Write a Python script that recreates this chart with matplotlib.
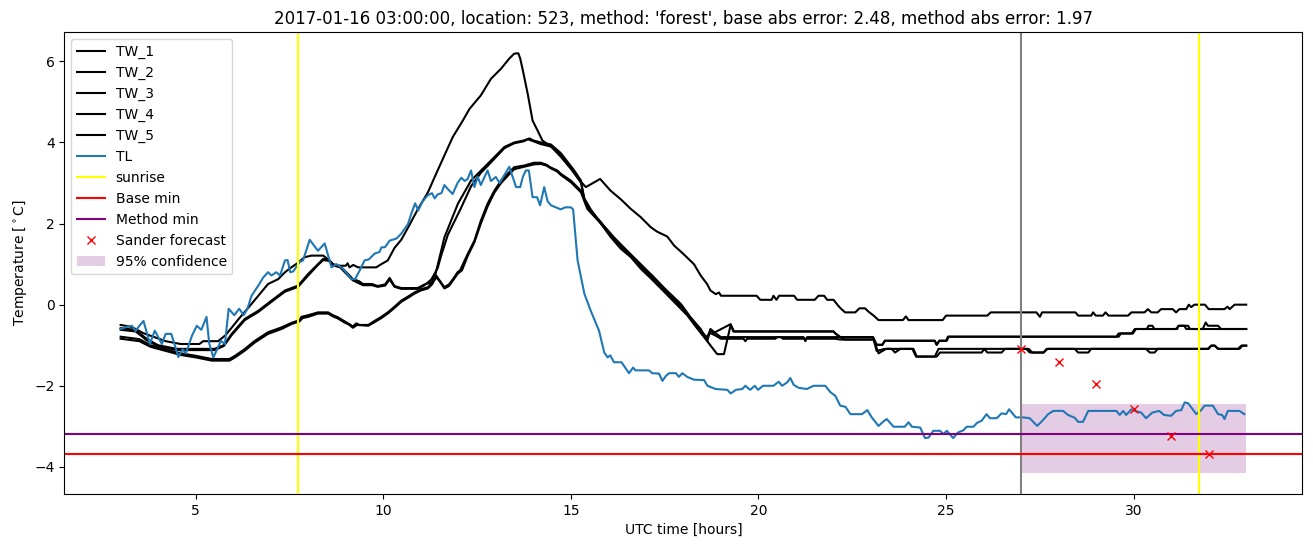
import matplotlib
matplotlib.use("Agg")
import matplotlib.pyplot as plt

# water temperatures (hour, degC)
tw1 = [(3.0, -0.5), (3.3, -0.55), (3.6, -0.7), (3.9, -0.8), (4.2, -0.9), (4.6, -0.97), (5.1, -0.97), (5.2, -0.9),
       (5.6, -0.9), (5.8, -0.75), (6.14, -0.36), (6.49, 0.02), (6.67, 0.22), (6.93, 0.51), (7.2, 0.63), (7.38, 0.8),
       (7.55, 0.92), (7.74, 1.04), (7.9, 1.17), (8.09, 1.21), (8.4, 1.21), (8.57, 1.09), (8.7, 0.96), (9.0, 0.96),
       (9.05, 1.02), (9.1, 0.92), (9.2, 0.98), (9.33, 0.92), (9.81, 0.92), (9.95, 1.0), (10.12, 1.09), (10.3, 1.4),
       (10.48, 1.6), (10.66, 1.9), (10.92, 2.35), (11.19, 2.77), (11.41, 3.23), (11.63, 3.68), (11.85, 4.13),
       (12.12, 4.54), (12.3, 4.83), (12.6, 5.16), (12.87, 5.57), (13.14, 5.82), (13.36, 6.07), (13.49, 6.19),
       (13.6, 6.2), (13.65, 6.07), (13.72, 5.78), (13.85, 5.2), (13.98, 4.54), (14.11, 4.3), (14.24, 4.05),
       (14.47, 3.9), (14.73, 3.65), (15.0, 3.35), (15.2, 3.1), (15.4, 2.9), (15.78, 3.1), (16.06, 2.81), (16.33, 2.6),
       (16.6, 2.36), (16.86, 2.16), (17.13, 1.91), (17.3, 1.8), (17.57, 1.68), (17.75, 1.46), (18.0, 1.25),
       (18.28, 1.0), (18.46, 0.72), (18.63, 0.51), (18.72, 0.35), (18.86, 0.26), (18.95, 0.3), (19.0, 0.22),
       (19.95, 0.22), (20.05, 0.12), (20.35, 0.12), (20.4, 0.22), (20.48, 0.12), (20.55, 0.22), (20.95, 0.22),
       (21.03, 0.12), (21.5, 0.12), (21.6, 0.22), (21.75, 0.22), (21.83, 0.12), (22.0, 0.12), (22.13, -0.03),
       (22.2, -0.1), (22.31, -0.19), (22.58, -0.19), (22.69, -0.09), (22.84, -0.09), (22.93, -0.17), (23.07, -0.27),
       (23.2, -0.38), (23.85, -0.38), (23.93, -0.29), (24.0, -0.38), (24.91, -0.38), (25.0, -0.27), (26.1, -0.27),
       (26.19, -0.19), (27.41, -0.19), (27.5, -0.3), (27.56, -0.19), (28.45, -0.19), (28.52, -0.27), (28.87, -0.27),
       (28.92, -0.19), (28.99, -0.27), (29.18, -0.27), (29.25, -0.19), (29.33, -0.27), (29.85, -0.27),
       (29.94, -0.19), (30.29, -0.19), (30.38, -0.11), (30.47, -0.19), (30.64, -0.19), (30.73, -0.11),
       (31.04, -0.11), (31.13, -0.19), (31.22, -0.11), (31.4, -0.11), (31.47, 0.0), (31.53, -0.06), (31.62, 0.0),
       (31.9, 0.0), (32.0, -0.11), (32.42, -0.11), (32.5, -0.05), (32.56, -0.11), (32.69, 0.0), (33.0, 0.0)]

tw2 = [(3.0, -0.58), (3.4, -0.62), (3.7, -0.85), (4.0, -1.0), (4.5, -1.09), (5.5, -1.09), (5.75, -1.0), (5.96, -0.72),
       (6.31, -0.35), (6.67, -0.15), (7.02, 0.1), (7.38, 0.35), (7.73, 0.47), (8.0, 0.76), (8.26, 1.0), (8.4, 1.13),
       (8.55, 1.1), (8.66, 1.0), (8.85, 0.95), (9.06, 0.76), (9.19, 0.63), (9.35, 0.58), (9.46, 0.51), (9.7, 0.51),
       (9.85, 0.46), (10.05, 0.5), (10.17, 0.66), (10.3, 0.46), (10.48, 0.41), (10.92, 0.41), (11.1, 0.5),
       (11.28, 0.55), (11.37, 0.67), (11.63, 1.66), (11.99, 2.49), (12.34, 3.06), (12.78, 3.47), (13.23, 3.89),
       (13.49, 4.0), (13.75, 4.05), (13.9, 4.1), (14.0, 4.05), (14.2, 4.0), (14.47, 3.95), (14.73, 3.74),
       (15.09, 3.31), (15.27, 3.06), (15.36, 2.57), (15.53, 2.32), (15.8, 2.03), (16.06, 1.7), (16.33, 1.41),
       (16.6, 1.21), (16.86, 0.92), (17.13, 0.68), (17.4, 0.43), (17.75, 0.1), (18.1, -0.23), (18.37, -0.56),
       (18.63, -0.81), (18.72, -0.62), (18.8, -0.7), (19.26, -0.48), (19.33, -0.66), (22.0, -0.66), (22.05, -0.71),
       (22.18, -0.8), (23.05, -0.8), (23.15, -0.99), (23.3, -0.99), (23.37, -0.89), (24.7, -0.89), (24.75, -0.99),
       (24.82, -0.89), (25.0, -0.89), (25.05, -0.79), (29.54, -0.79), (29.6, -0.71), (29.95, -0.71), (30.03, -0.6),
       (30.35, -0.6), (30.4, -0.52), (30.5, -0.52), (30.55, -0.6), (31.16, -0.6), (31.2, -0.52), (31.35, -0.52),
       (31.4, -0.6), (31.84, -0.6), (31.92, -0.44), (31.98, -0.52), (32.25, -0.52), (32.33, -0.6), (33.0, -0.6)]

tw3 = [(3.0, -0.62), (3.4, -0.66), (3.7, -0.88), (4.0, -1.02), (4.5, -1.12), (5.5, -1.12), (5.75, -1.02),
       (5.96, -0.75), (6.31, -0.38), (6.67, -0.18), (7.02, 0.07), (7.38, 0.32), (7.73, 0.44), (8.0, 0.72),
       (8.26, 0.98), (8.4, 1.1), (8.55, 1.08), (8.66, 0.97), (8.85, 0.92), (9.06, 0.72), (9.19, 0.6), (9.46, 0.48),
       (9.7, 0.48), (9.85, 0.44), (10.05, 0.47), (10.17, 0.62), (10.3, 0.44), (10.48, 0.39), (10.92, 0.39),
       (11.1, 0.48), (11.28, 0.62), (11.45, 0.9), (11.54, 1.2), (11.72, 1.72), (12.07, 2.38), (12.34, 2.92),
       (12.6, 3.25), (12.78, 3.42), (13.23, 3.86), (13.49, 3.98), (13.75, 4.03), (13.85, 4.08), (14.0, 4.03),
       (14.2, 3.96), (14.47, 3.9), (14.73, 3.7), (15.09, 3.27), (15.27, 3.0), (15.36, 2.62), (15.53, 2.35),
       (15.8, 2.0), (16.06, 1.67), (16.33, 1.38), (16.6, 1.17), (16.86, 0.89), (17.13, 0.65), (17.4, 0.4),
       (17.75, 0.07), (18.1, -0.26), (18.37, -0.59), (18.55, -0.8), (18.9, -1.22), (19.08, -1.22), (19.26, -0.5),
       (19.35, -0.66), (22.0, -0.66), (22.05, -0.71), (22.18, -0.8), (23.05, -0.8), (23.15, -0.99), (23.3, -0.99),
       (23.37, -0.89), (24.7, -0.89), (24.75, -0.99), (24.82, -0.89), (25.02, -0.89), (25.07, -0.79), (29.6, -0.79),
       (29.66, -0.71), (29.98, -0.71), (30.06, -0.6), (31.13, -0.6), (31.2, -0.52), (31.45, -0.52), (31.5, -0.6),
       (33.0, -0.6)]

tw4 = [(3.0, -0.79), (3.5, -0.85), (3.8, -1.0), (4.2, -1.1), (4.6, -1.2), (5.0, -1.26), (5.43, -1.34), (5.9, -1.34),
       (6.05, -1.26), (6.3, -1.1), (6.58, -0.89), (6.93, -0.68), (7.29, -0.56), (7.55, -0.45), (7.77, -0.38),
       (7.82, -0.3), (8.0, -0.26), (8.26, -0.19), (8.53, -0.19), (8.66, -0.26), (8.79, -0.31), (8.95, -0.4),
       (9.1, -0.48), (9.19, -0.54), (9.28, -0.46), (9.37, -0.5), (9.6, -0.5), (9.77, -0.4), (9.95, -0.3),
       (10.12, -0.19), (10.3, -0.05), (10.48, 0.1), (10.66, 0.2), (10.83, 0.3), (11.0, 0.38), (11.19, 0.43),
       (11.3, 0.55), (11.41, 0.72), (11.5, 0.6), (11.63, 0.43), (11.75, 0.5), (11.86, 0.63), (11.98, 0.8),
       (12.05, 0.85), (12.25, 1.25), (12.43, 1.58), (12.6, 2.07), (12.78, 2.49), (12.96, 2.81), (13.14, 3.06),
       (13.36, 3.27), (13.49, 3.39), (13.75, 3.43), (14.02, 3.5), (14.2, 3.5), (14.35, 3.45), (14.47, 3.38),
       (14.64, 3.31), (14.73, 3.23), (15.0, 3.06), (15.27, 2.81), (15.44, 2.4), (15.8, 2.03), (16.15, 1.66),
       (16.5, 1.33), (16.86, 1.0), (17.22, 0.67), (17.5, 0.4), (17.93, 0.02), (18.19, -0.31), (18.46, -0.6),
       (18.64, -0.89), (18.72, -0.6), (18.85, -0.7), (19.0, -0.8), (21.2, -0.8), (21.25, -0.9), (21.3, -0.8),
       (22.18, -0.8), (22.3, -0.86), (23.07, -0.86), (23.15, -1.14), (23.37, -1.09), (24.13, -1.09), (24.22, -1.28),
       (24.75, -1.28), (24.84, -1.18), (25.95, -1.18), (26.02, -1.09), (26.1, -1.18), (26.48, -1.18), (26.57, -1.09),
       (27.14, -1.09), (27.23, -1.18), (27.6, -1.18), (27.68, -1.09), (28.43, -1.09), (28.52, -1.18), (28.79, -1.18),
       (28.87, -1.09), (30.33, -1.09), (30.43, -1.18), (30.56, -1.18), (30.64, -1.09), (31.97, -1.09),
       (32.07, -1.01), (32.16, -1.01), (32.25, -1.09), (32.78, -1.09), (32.87, -1.01), (33.0, -1.01)]

tw5 = [(3.0, -0.84), (3.5, -0.9), (3.8, -1.04), (4.2, -1.14), (4.6, -1.24), (5.0, -1.3), (5.43, -1.38), (5.9, -1.38),
       (6.05, -1.3), (6.3, -1.14), (6.58, -0.93), (6.93, -0.72), (7.29, -0.6), (7.55, -0.48), (7.77, -0.41),
       (7.85, -0.33), (8.0, -0.3), (8.26, -0.22), (8.53, -0.22), (8.66, -0.29), (8.79, -0.34), (8.95, -0.43),
       (9.1, -0.5), (9.19, -0.57), (9.3, -0.5), (9.6, -0.52), (9.77, -0.43), (9.95, -0.33), (10.12, -0.22),
       (10.3, -0.08), (10.48, 0.07), (10.66, 0.17), (10.83, 0.27), (11.0, 0.35), (11.19, 0.4), (11.3, 0.5),
       (11.41, 0.68), (11.5, 0.58), (11.63, 0.4), (11.75, 0.46), (11.86, 0.6), (11.98, 0.76), (12.1, 0.85),
       (12.25, 1.2), (12.43, 1.54), (12.6, 2.0), (12.78, 2.42), (12.96, 2.76), (13.14, 3.0), (13.36, 3.22),
       (13.49, 3.34), (13.75, 3.4), (14.02, 3.46), (14.2, 3.47), (14.35, 3.43), (14.47, 3.36), (14.64, 3.28),
       (14.73, 3.2), (15.0, 3.02), (15.27, 2.77), (15.44, 2.36), (15.8, 2.0), (16.15, 1.62), (16.5, 1.3),
       (16.86, 0.97), (17.22, 0.64), (17.5, 0.37), (17.93, -0.01), (18.19, -0.34), (18.46, -0.63), (18.6, -0.82),
       (18.72, -0.7), (18.85, -0.76), (19.0, -0.84), (19.6, -0.84), (19.65, -0.9), (19.7, -0.84), (20.45, -0.84),
       (20.5, -0.8), (20.6, -0.8), (20.65, -0.84), (22.05, -0.84), (22.18, -0.86), (23.07, -0.86), (23.2, -1.2),
       (23.4, -1.09), (23.55, -1.09), (23.64, -1.18), (23.78, -1.09), (24.1, -1.09), (24.2, -1.28), (24.7, -1.28),
       (24.8, -1.09), (27.2, -1.09), (27.3, -1.18), (27.6, -1.18), (27.7, -1.09), (32.0, -1.09), (32.07, -1.01),
       (32.16, -1.01), (32.25, -1.09), (32.82, -1.09), (32.9, -1.01), (33.0, -1.01)]

# air temperature
tl = [(3.0, -0.6), (3.15, -0.55), (3.3, -0.52), (3.4, -0.65), (3.5, -0.52), (3.61, -0.4), (3.78, -0.97),
      (3.91, -0.64), (4.1, -0.97), (4.2, -0.72), (4.35, -0.72), (4.54, -1.29), (4.65, -1.1), (4.74, -1.2),
      (4.9, -0.77), (5.03, -0.52), (5.15, -0.62), (5.29, -0.3), (5.36, -0.95), (5.47, -1.3), (5.6, -1.05),
      (5.67, -0.89), (5.78, -0.97), (5.88, -0.1), (6.03, -0.26), (6.16, -0.1), (6.28, -0.26), (6.38, -0.1),
      (6.49, 0.22), (6.67, 0.47), (6.8, 0.67), (6.93, 0.8), (7.02, 0.72), (7.15, 0.8), (7.25, 0.72), (7.38, 1.09),
      (7.45, 1.1), (7.52, 0.8), (7.6, 0.82), (7.77, 1.05), (7.86, 1.09), (8.04, 1.6), (8.26, 1.33), (8.44, 1.51),
      (8.62, 0.92), (8.75, 1.0), (8.88, 0.92), (8.97, 0.84), (9.15, 0.63), (9.25, 0.63), (9.37, 0.84), (9.5, 1.09),
      (9.62, 1.12), (9.77, 1.26), (9.9, 1.3), (9.95, 1.41), (10.05, 1.42), (10.17, 1.58), (10.35, 1.63),
      (10.48, 1.75), (10.66, 1.99), (10.75, 2.25), (10.85, 2.5), (10.93, 2.32), (11.05, 2.55), (11.19, 2.7),
      (11.3, 2.75), (11.37, 2.62), (11.45, 2.72), (11.55, 2.75), (11.63, 2.95), (11.72, 2.85), (11.85, 2.73),
      (11.98, 3.0), (12.08, 3.13), (12.17, 3.05), (12.25, 3.1), (12.34, 3.31), (12.43, 2.9), (12.52, 3.15),
      (12.6, 2.95), (12.78, 3.31), (12.87, 3.05), (13.0, 3.15), (13.1, 3.0), (13.23, 3.2), (13.36, 3.4),
      (13.54, 2.9), (13.65, 2.9), (13.72, 3.15), (13.8, 3.31), (13.88, 3.31), (13.98, 2.65), (14.1, 2.65),
      (14.18, 2.45), (14.29, 2.9), (14.38, 2.55), (14.47, 2.45), (14.6, 2.4), (14.73, 2.35), (14.85, 2.4),
      (15.0, 2.4), (15.06, 2.35), (15.18, 1.09), (15.36, 0.27), (15.53, -0.15), (15.75, -0.64), (15.89, -1.18),
      (15.98, -1.3), (16.05, -1.25), (16.15, -1.42), (16.35, -1.42), (16.55, -1.69), (16.66, -1.55),
      (16.72, -1.62), (17.08, -1.62), (17.17, -1.69), (17.35, -1.7), (17.44, -1.88), (17.53, -1.76),
      (17.62, -1.69), (17.8, -1.69), (17.88, -1.78), (17.97, -1.69), (18.1, -1.78), (18.28, -1.85), (18.55, -1.86),
      (18.64, -2.0), (18.86, -2.08), (19.17, -2.1), (19.26, -2.19), (19.4, -2.1), (19.57, -2.08), (19.65, -2.0),
      (19.78, -2.1), (19.9, -2.0), (19.99, -2.1), (20.12, -2.0), (20.4, -2.0), (20.54, -1.9), (20.63, -2.0),
      (20.76, -1.92), (20.85, -1.81), (20.94, -1.98), (21.07, -2.05), (21.29, -2.08), (21.47, -2.0), (21.78, -2.0),
      (21.92, -2.16), (22.05, -2.25), (22.18, -2.49), (22.32, -2.52), (22.45, -2.7), (22.76, -2.7), (22.9, -2.6),
      (23.02, -2.78), (23.2, -2.99), (23.33, -2.88), (23.42, -2.82), (23.6, -3.01), (23.9, -3.01), (24.0, -2.9),
      (24.09, -3.01), (24.31, -3.03), (24.44, -3.29), (24.53, -3.28), (24.66, -3.11), (24.84, -3.11),
      (24.93, -3.19), (25.02, -3.11), (25.19, -3.29), (25.32, -3.15), (25.46, -3.1), (25.55, -3.01), (25.73, -3.01),
      (25.82, -2.92), (25.95, -2.86), (26.08, -2.7), (26.17, -2.8), (26.35, -2.8), (26.48, -2.68), (26.6, -2.7),
      (26.68, -2.58), (26.77, -2.68), (26.86, -2.78), (27.06, -2.78), (27.23, -2.8), (27.43, -2.99),
      (27.59, -2.84), (27.72, -2.7), (27.86, -2.62), (28.12, -2.62), (28.25, -2.72), (28.43, -2.79),
      (28.52, -2.89), (28.65, -2.89), (28.79, -2.62), (29.54, -2.62), (29.63, -2.72), (29.72, -2.62),
      (29.8, -2.72), (29.94, -2.58), (30.03, -2.62), (30.2, -2.66), (30.33, -2.8), (30.5, -2.66), (30.68, -2.62),
      (30.81, -2.72), (31.0, -2.74), (31.13, -2.62), (31.27, -2.6), (31.36, -2.41), (31.45, -2.43), (31.67, -2.7),
      (31.8, -2.6), (31.89, -2.49), (32.11, -2.49), (32.25, -2.7), (32.36, -2.72), (32.42, -2.82), (32.51, -2.62),
      (32.82, -2.62), (32.95, -2.7)]

sander_t = [27, 28, 29, 30, 31, 32]
sander_v = [-1.09, -1.41, -1.95, -2.57, -3.23, -3.68]

sunrise = [7.73, 31.73]
forecast_time = 27
base_min = -3.68
method_min = -3.19
conf_t = [27, 33]
conf_low = -4.15
conf_high = -2.45

fig, ax = plt.subplots(figsize=(13.13, 5.47), dpi=100)

for i, tw in enumerate([tw1, tw2, tw3, tw4, tw5]):
    t, v = zip(*tw)
    ax.plot(t, v, color="black", label="TW_%d" % (i + 1))

t, v = zip(*tl)
ax.plot(t, v, color="C0", label="TL")

ax.axvline(sunrise[0], color="yellow", label="sunrise")
ax.axvline(sunrise[1], color="yellow")
ax.axvline(forecast_time, color="gray")
ax.axhline(base_min, color="red", label="Base min")
ax.axhline(method_min, color="purple", label="Method min")
ax.plot(sander_t, sander_v, "x", color="red", label="Sander forecast")
ax.fill_between(conf_t, conf_low, conf_high, color="purple", alpha=0.2, linewidth=0, label="95% confidence")

ax.set_title("2017-01-16 03:00:00, location: 523, method: 'forest', base abs error: 2.48, method abs error: 1.97")
ax.set_xlabel("UTC time [hours]")
ax.set_ylabel("Temperature [$^\\circ$C]")
ax.legend(loc="upper left")

plt.subplots_adjust(left=0.049, right=0.992, top=0.941, bottom=0.097)
plt.savefig("out.png", dpi=100)
